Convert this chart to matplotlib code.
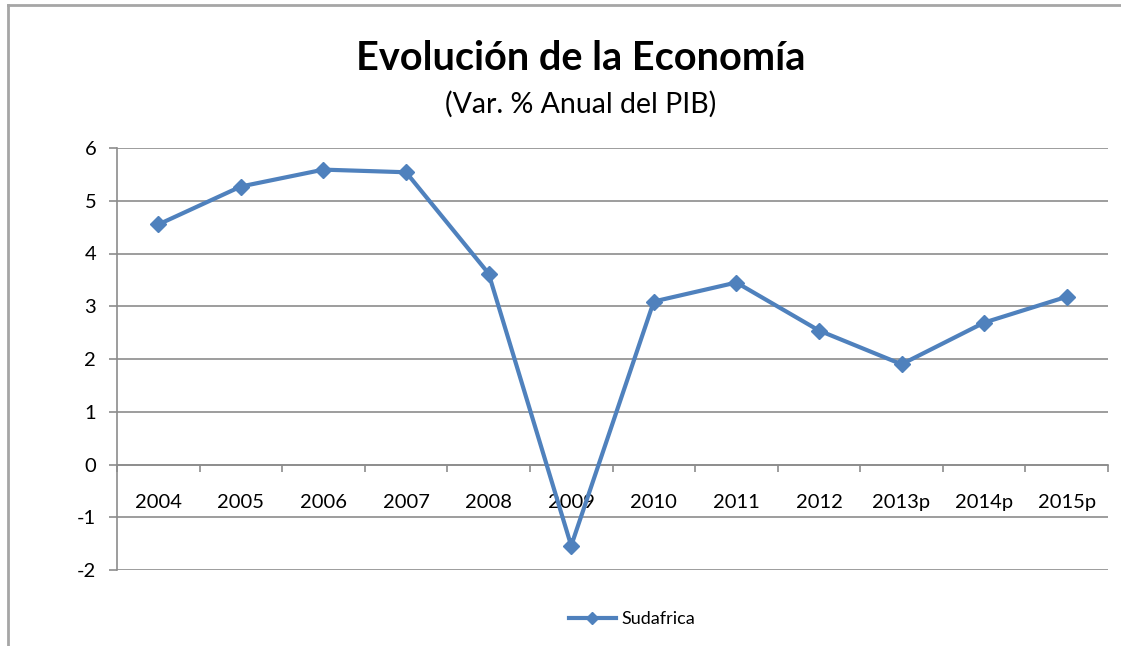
"""
Evolución de la Economía - Sudafrica
Gráfico de línea estilo Excel
"""

import matplotlib.pyplot as plt
import matplotlib
from matplotlib.lines import Line2D
from matplotlib.ticker import FixedLocator

matplotlib.rcParams['font.family'] = ['Lato', 'DejaVu Sans']
matplotlib.rcParams['axes.unicode_minus'] = False

# datos
anios = ['2004', '2005', '2006', '2007', '2008', '2009',
         '2010', '2011', '2012', '2013p', '2014p', '2015p']
pib = [4.55, 5.27, 5.59, 5.54, 3.62, -1.54, 3.09, 3.45, 2.54, 1.90, 2.69, 3.18]
serie = 'Sudafrica'
y_ticks = [-2, -1, 0, 1, 2, 3, 4, 5, 6]

color_linea = '#4F81BD'
gris = '#8C8C8C'

fig = plt.figure(figsize=(11.21, 6.46), dpi=100)
ax = fig.add_axes([117 / 1121, 1 - 570 / 646, 991 / 1121, 422 / 646])

x = list(range(len(anios)))
ax.plot(x, pib, color=color_linea, lw=3, marker='D', ms=8,
        markeredgecolor=color_linea, label=serie, zorder=3)

ax.set_xlim(-0.5, len(anios) - 0.5)
ax.set_ylim(-2, 6)

# rejilla horizontal
ax.set_yticks(y_ticks)
for v in y_ticks:
    ax.axhline(v, color=gris, lw=1.2, zorder=1)

# eje x en y=0
ax.spines['bottom'].set_position(('data', 0))
ax.spines['bottom'].set_color(gris)
ax.spines['bottom'].set_linewidth(1.2)
ax.spines['left'].set_color(gris)
ax.spines['left'].set_linewidth(1.2)
ax.spines['top'].set_visible(False)
ax.spines['right'].set_visible(False)

ax.set_xticks(x)
ax.set_xticklabels(anios)
ax.xaxis.set_minor_locator(FixedLocator([i - 0.5 for i in range(len(anios) + 1)]))
ax.tick_params(axis='x', which='major', length=0, pad=21, labelsize=14.5)
ax.tick_params(axis='x', which='minor', length=5, width=1.2, color=gris, direction='out')
ax.tick_params(axis='y', length=6, width=1.2, color=gris, direction='out',
               pad=9, labelsize=14.5)

# títulos
fig.text(0.518, 0.910, 'Evolución de la Economía', ha='center', va='center',
         fontsize=28.5, fontweight='bold')
fig.text(0.518, 0.839, '(Var. % Anual del PIB)', ha='center', va='center',
         fontsize=20.5)

# leyenda
ax.legend(loc='center', bbox_to_anchor=(632 / 1121, 1 - 619 / 646),
          bbox_transform=fig.transFigure, frameon=False, fontsize=13,
          handlelength=2.6, handletextpad=0.3, markerscale=0.8)

# marco del gráfico: solo bordes izquierdo y superior
xb = 8 / 1121
yb = 1 - 5 / 646
fig.add_artist(Line2D([xb, xb], [0, yb], transform=fig.transFigure,
                      color='#A6A6A6', lw=2))
fig.add_artist(Line2D([xb, 1], [yb, yb], transform=fig.transFigure,
                      color='#A6A6A6', lw=2))

fig.savefig('out.png', dpi=100)
